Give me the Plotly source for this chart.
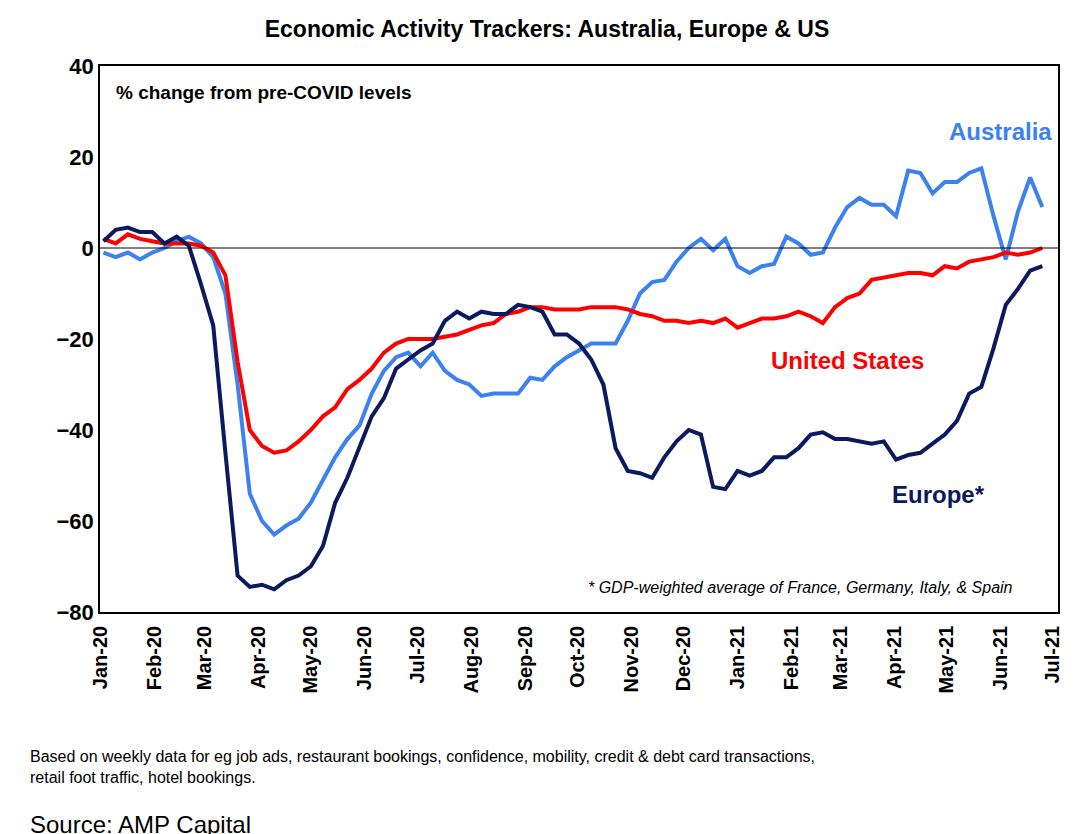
import pandas as pd
import plotly.graph_objects as go

# weekly observations, Jan 2020 - Jun 2021
dates = pd.date_range("2020-01-03", periods=78, freq="7D")

australia = [-1, -2, -1, -2.5, -1, 0, 1.5, 2.5, 1, -2, -10, -30, -54, -60, -63, -61, -59.5, -56, -51, -46,
             -42, -39, -32, -27, -24, -23, -26, -23, -27, -29, -30, -32.5, -32, -32, -32, -28.5, -29, -26, -24, -22.5,
             -21, -21, -21, -16, -10, -7.5, -7, -3, 0, 2, -0.5, 2, -4, -5.5, -4, -3.5, 2.5, 1, -1.5, -1,
             4.5, 9, 11, 9.5, 9.5, 7, 17, 16.5, 12, 14.5, 14.5, 16.5, 17.5, 7, -2.5, 8, 15.5, 9]

united_states = [2, 1, 3, 2, 1.5, 1, 1, 1, 0.5, -1, -6, -25, -40, -43.5, -45, -44.5, -42.5, -40, -37, -35,
                 -31, -29, -26.5, -23, -21, -20, -20, -20, -19.5, -19, -18, -17, -16.5, -14.5, -14, -13, -13, -13.5, -13.5, -13.5,
                 -13, -13, -13, -13.5, -14.5, -15, -16, -16, -16.5, -16, -16.5, -15.5, -17.5, -16.5, -15.5, -15.5, -15, -14, -15, -16.5,
                 -13, -11, -10, -7, -6.5, -6, -5.5, -5.5, -6, -4, -4.5, -3, -2.5, -2, -1, -1.5, -1, 0]

europe = [1.5, 4, 4.5, 3.5, 3.5, 1, 2.5, 0.5, -8, -17, -45, -72, -74.5, -74, -75, -73, -72, -70, -65.5, -56,
          -50.5, -44, -37, -33, -26.5, -24.5, -22.5, -21, -16, -14, -15.5, -14, -14.5, -14.5, -12.5, -13, -14, -19, -19, -21,
          -24.5, -30, -44, -49, -49.5, -50.5, -46, -42.5, -40, -41, -52.5, -53, -49, -50, -49, -46, -46, -44, -41, -40.5,
          -42, -42, -42.5, -43, -42.5, -46.5, -45.5, -45, -43, -41, -38, -32, -30.5, -22, -12.5, -9, -5, -4]

font = "Liberation Sans, Arial, sans-serif"

fig = go.Figure()
fig.add_trace(go.Scatter(x=dates, y=australia, mode="lines", line=dict(color="#3b82f0", width=4)))
fig.add_trace(go.Scatter(x=dates, y=united_states, mode="lines", line=dict(color="#ff0000", width=4)))
fig.add_trace(go.Scatter(x=dates, y=europe, mode="lines", line=dict(color="#0b1a5e", width=4)))

fig.add_hline(y=0, line=dict(color="black", width=1))

fig.update_layout(
    width=1078, height=834,
    margin=dict(l=92, r=28, t=58, b=230),
    paper_bgcolor="white", plot_bgcolor="white",
    showlegend=False,
    font=dict(family=font, color="black"),
    title=dict(text="<b>Economic Activity Trackers: Australia, Europe & US</b>",
               x=0.5, xanchor="center", y=0.975, yanchor="middle", font=dict(size=23)),
    xaxis=dict(range=["2020-01-01", "2021-07-04"], dtick="M1", tick0="2020-01-01",
               tickformat="%b-%y", tickangle=-90, tickfont=dict(size=20, family=font),
               showgrid=False, showline=True, linecolor="black", linewidth=1.5, mirror=True,
               ticks="", ticklabelstandoff=4),
    yaxis=dict(range=[-80, 40], dtick=20, tickfont=dict(size=22, family=font),
               showgrid=False, showline=True, linecolor="black", linewidth=1.5, mirror=True,
               zeroline=False, ticks=""),
)

fig.update_xaxes(tickprefix="<b>", ticksuffix="</b>")
fig.update_yaxes(tickprefix="<b>", ticksuffix="</b>")

notes = [
    dict(x=0.015, y=0.975, xref="paper", yref="paper", text="<b>% change from pre-COVID levels</b>",
         font=dict(size=19), xanchor="left", yanchor="top"),
    dict(x=0.94, y=0.88, xref="paper", yref="paper", text="<b>Australia</b>",
         font=dict(size=24, color="#3b82f0"), xanchor="center", yanchor="middle"),
    dict(x=0.78, y=0.46, xref="paper", yref="paper", text="<b>United States</b>",
         font=dict(size=24, color="#ff0000"), xanchor="center", yanchor="middle"),
    dict(x=0.875, y=0.215, xref="paper", yref="paper", text="<b>Europe*</b>",
         font=dict(size=24, color="#0b1a5e"), xanchor="center", yanchor="middle"),
    dict(x=0.955, y=0.045, xref="paper", yref="paper",
         text="<i>* GDP-weighted average of France, Germany, Italy, & Spain</i>",
         font=dict(size=16), xanchor="right", yanchor="middle"),
    dict(x=-0.075, y=-0.245, xref="paper", yref="paper",
         text="Based on weekly data for eg job ads, restaurant bookings, confidence, mobility, credit & debt card transactions,<br>retail foot traffic, hotel bookings.",
         font=dict(size=16), xanchor="left", yanchor="top", align="left"),
    dict(x=-0.075, y=-0.36, xref="paper", yref="paper", text="Source: AMP Capital",
         font=dict(size=24), xanchor="left", yanchor="top", align="left"),
]
for n in notes:
    fig.add_annotation(showarrow=False, **n)

fig.write_html("out.html")
